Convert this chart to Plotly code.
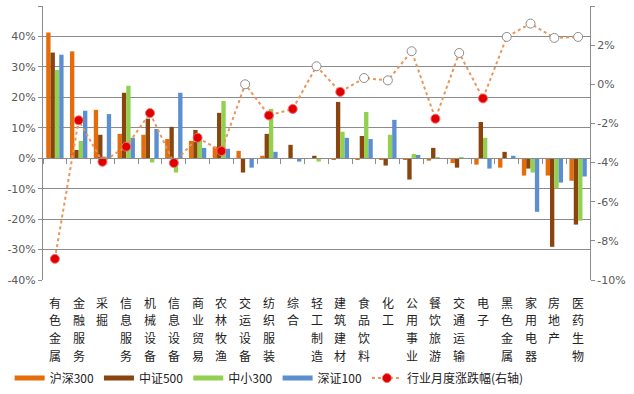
import plotly.graph_objects as go

categories = ["有色金属", "金融服务", "采掘", "信息服务", "机械设备", "信息设备", "商业贸易",
              "农林牧渔", "交运设备", "纺织服装", "综合", "轻工制造", "建筑建材", "食品饮料",
              "化工", "公用事业", "餐饮旅游", "交通运输", "电子", "黑色金属", "家用电器",
              "房地产", "医药生物"]

hs300 = [41.3, 35.1, 15.9, 8.0, 7.7, 6.3, 5.7, 3.8, 2.4, 0.8, 0.0, 0.0, -0.3, -0.3,
         -0.3, -0.5, -0.8, -1.6, -2.1, -3.1, -5.7, -5.7, -7.4]
zz500 = [34.7, 2.7, 7.7, 21.5, 13.0, 10.3, 9.3, 14.9, -4.7, 8.0, 4.4, 0.8, 18.5, 7.3,
         -2.4, -7.0, 3.4, -3.1, 11.9, 2.1, -3.4, -29.1, -21.8]
zx300 = [29.0, 5.7, 0.6, 23.8, -1.4, -4.7, 6.0, 18.8, 0.0, 16.2, 0.0, -1.1, 8.7, 15.2,
         7.7, 1.4, 0.4, 0.4, 6.7, 0.0, -4.7, -9.9, -20.5]
sz100 = [34.0, 15.6, 14.5, 6.7, 9.6, 21.5, 3.4, 3.1, -3.1, 2.1, -1.1, 0.0, 6.7, 6.3,
         12.6, 1.1, 0.0, 0.0, -3.4, 0.8, -17.6, -8.0, -6.0]
industry = [-8.92, -1.84, -3.96, -3.19, -1.47, -4.02, -2.73, -3.41, 0.0, -1.59, -1.26,
            0.92, -0.39, 0.32, 0.2, 1.69, -1.76, 1.6, -0.72, 2.42, 3.1, 2.37, 2.42]

left_ticks = [-40, -30, -20, -10, 0, 10, 20, 30, 40, 50]
left_text = ["-40%", "-30%", "-20%", "-10%", "0%", "10%", "20%", "30%", "40%", "50%"]
right_ticks = [-10, -8, -6, -4, -2, 0, 2, 4]
right_text = ["-10%", "-8%", "-6%", "-4%", "-2%", "0%", "2%", "4%"]

series_names = ["沪深300", "中证500", "中小300", "深证100"]
colors = ["#E46C0A", "#8A450F", "#92D050", "#5B8FD0"]
line_name = "行业月度涨跌幅(右轴)"
line_color = "#E8965A"

fig = go.Figure()
for name, vals, c in zip(series_names, [hs300, zz500, zx300, sz100], colors):
    fig.add_trace(go.Bar(x=categories, y=vals, name=name, marker_color=c,
                         marker_line_width=0, showlegend=False))
    # legend swatch (wide bar-like line)
    fig.add_trace(go.Scatter(x=[None], y=[None], mode="lines", name=name,
                             line=dict(color=c, width=5)))

fill_cols = ["#E00000" if v < 0 else "white" for v in industry]
edge_cols = ["#F07070" if v < 0 else "#8C8C8C" for v in industry]
fig.add_trace(go.Scatter(x=categories, y=industry, name=line_name, yaxis="y2",
                         mode="lines+markers",
                         line=dict(color=line_color, width=2, dash="dot"),
                         marker=dict(size=9, color=fill_cols,
                                     line=dict(color=edge_cols, width=1))))
# helper trace so the zero-line category tick axis is drawn
fig.add_trace(go.Scatter(x=[0], y=[0], xaxis="x2", mode="markers", opacity=0,
                         showlegend=False, hoverinfo="skip"))

tick_font = dict(family="DejaVu Sans", size=11, color="#595959")
cat_font = dict(family="Noto Sans CJK SC", size=12, color="#222")

# category labels written vertically, one character per row
row_gap = 17.7
for i, c in enumerate(categories):
    for j, ch in enumerate(c):
        fig.add_annotation(x=c, xref="x", y=0, yref="paper", text=ch, showarrow=False,
                           yanchor="middle", xanchor="center", yshift=-22 - row_gap * j,
                           font=cat_font)

n = len(categories)
fig.update_layout(
    width=634, height=394,
    margin=dict(l=43, r=44, t=6, b=114, autoexpand=False),
    plot_bgcolor="white", paper_bgcolor="white",
    barmode="group", bargap=0.27, bargroupgap=0,
    xaxis=dict(type="category", range=[-0.5, n - 0.5], showticklabels=False, ticks="",
               showgrid=False, showline=False, zeroline=False, automargin=False),
    xaxis2=dict(overlaying="x", anchor="free", position=40 / 90, range=[-0.5, n - 0.5],
                tickvals=[i + 0.5 for i in range(-1, n)], ticks="outside",
                ticklen=5, tickcolor="#8C8C8C", showline=True, linecolor="#8C8C8C",
                showticklabels=False, showgrid=False, zeroline=False, automargin=False),
    yaxis=dict(range=[-40, 50], tickvals=left_ticks, ticktext=left_text,
               showgrid=True, gridcolor="#8C8C8C", gridwidth=1, zeroline=False,
               showline=True, linecolor="#8C8C8C", ticks="outside", ticklen=4,
               tickcolor="#8C8C8C", tickfont=tick_font, automargin=False),
    yaxis2=dict(range=[-10, 4], tickvals=right_ticks, ticktext=right_text,
                overlaying="y", side="right", showgrid=False, zeroline=False,
                showline=True, linecolor="#8C8C8C", ticks="outside", ticklen=4,
                tickcolor="#8C8C8C", tickfont=tick_font, automargin=False),
    legend=dict(orientation="h", x=-0.061, xanchor="left", y=-0.358, yanchor="middle",
                font=dict(family="Noto Sans CJK SC", size=12, color="#222"),
                itemwidth=30, tracegroupgap=0),
)

fig.write_html("out.html", config={"displayModeBar": False},
               post_script="document.body.style.margin='0';")
